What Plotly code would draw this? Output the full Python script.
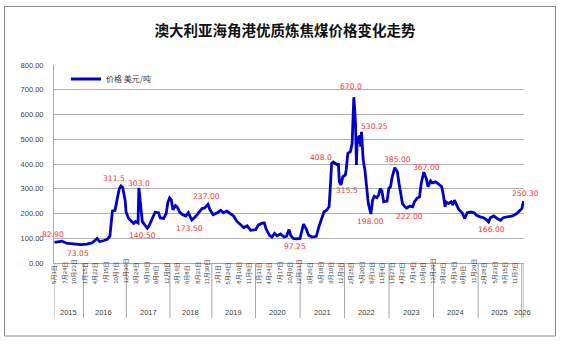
import plotly.graph_objects as go

# ---------------- data ----------------
dates = [
    "2015-05-01", "2015-05-22", "2015-07-03", "2015-07-17", "2015-08-14", "2015-09-11", "2015-10-30",
    "2015-11-20", "2015-12-11", "2016-01-29", "2016-03-25", "2016-05-06", "2016-05-27", "2016-07-01",
    "2016-07-29", "2016-08-19", "2016-09-09", "2016-09-30", "2016-10-14", "2016-11-04", "2016-11-18",
    "2016-12-02", "2016-12-16", "2016-12-23", "2016-12-30", "2017-01-20", "2017-02-10", "2017-03-03",
    "2017-03-17", "2017-04-07", "2017-04-14", "2017-04-28", "2017-05-12", "2017-06-02", "2017-06-23",
    "2017-07-07", "2017-07-28", "2017-08-25", "2017-09-22", "2017-10-13", "2017-11-10", "2017-12-01",
    "2017-12-15", "2017-12-29", "2018-01-12", "2018-01-26", "2018-03-02", "2018-03-16", "2018-04-06",
    "2018-04-27", "2018-05-25", "2018-06-15", "2018-07-13", "2018-08-10", "2018-09-07", "2018-10-12",
    "2018-11-02", "2018-11-30", "2018-12-14", "2019-01-11", "2019-02-22", "2019-03-22", "2019-04-12",
    "2019-05-10", "2019-06-07", "2019-07-05", "2019-08-02", "2019-08-30", "2019-09-27", "2019-10-25",
    "2019-11-22", "2020-01-03", "2020-01-24", "2020-02-21", "2020-03-13", "2020-03-27", "2020-04-24",
    "2020-05-15", "2020-06-05", "2020-06-26", "2020-07-24", "2020-08-21", "2020-09-11", "2020-10-02",
    "2020-10-16", "2020-11-06", "2020-12-04", "2020-12-31", "2021-01-15", "2021-01-29", "2021-02-19",
    "2021-03-12", "2021-04-09", "2021-05-14", "2021-06-04", "2021-06-25", "2021-07-16", "2021-08-06",
    "2021-08-27", "2021-09-03", "2021-09-17", "2021-10-01", "2021-10-29", "2021-11-12", "2021-11-19",
    "2021-12-03", "2021-12-17", "2022-01-07", "2022-01-14", "2022-01-28", "2022-02-18", "2022-03-04",
    "2022-03-18", "2022-03-25", "2022-04-01", "2022-04-08", "2022-04-15", "2022-04-22", "2022-04-29",
    "2022-05-06", "2022-05-13", "2022-05-20", "2022-05-27", "2022-06-03", "2022-06-17", "2022-07-01",
    "2022-07-15", "2022-08-05", "2022-08-19", "2022-09-02", "2022-09-23", "2022-10-07", "2022-10-21",
    "2022-11-04", "2022-11-18", "2022-12-16", "2022-12-30", "2023-01-13", "2023-01-27", "2023-02-17",
    "2023-03-10", "2023-03-24", "2023-04-07", "2023-04-21", "2023-05-12", "2023-05-26", "2023-06-23",
    "2023-07-14", "2023-07-28", "2023-08-18", "2023-09-08", "2023-09-22", "2023-10-13", "2023-11-03",
    "2023-11-17", "2023-12-08", "2023-12-22", "2024-01-19", "2024-02-09", "2024-03-08", "2024-03-22",
    "2024-04-05", "2024-04-12", "2024-05-03", "2024-05-24", "2024-06-07", "2024-06-21", "2024-07-05",
    "2024-07-26", "2024-08-23", "2024-09-13", "2024-10-04", "2024-11-01", "2024-11-29", "2024-12-20",
    "2025-01-17", "2025-02-21", "2025-03-21", "2025-04-04", "2025-04-18", "2025-05-16", "2025-06-13",
    "2025-07-11", "2025-08-01", "2025-09-05", "2025-10-17", "2025-11-21", "2025-12-12", "2026-01-02",
    "2026-01-16",
]
prices = [
    82.9, 84, 88, 85, 79, 78, 75,
    73.05, 74, 76, 81, 99, 86, 91,
    96, 108, 210, 213, 250, 300, 311.5,
    305, 270, 250, 205, 180, 170, 160,
    168, 162, 303, 227, 168, 153, 140.5,
    150, 175, 205, 203, 182, 180, 200,
    245, 263, 255, 215, 232, 226, 205,
    196, 190, 203, 173.5, 186, 203, 220,
    222, 237, 218, 195, 203, 213, 203,
    210, 200, 190, 168, 157, 143, 150,
    132, 135, 153, 160, 162, 139, 112,
    105, 120, 110, 117, 105, 108, 135,
    112, 99, 97.25, 99, 132, 157, 139,
    112, 105, 108, 146, 173, 206, 213,
    227, 281, 402, 408, 398, 398, 328,
    315.5, 348, 356, 376, 443, 450, 483,
    670, 620, 560, 396, 505, 510, 483,
    517, 470, 530.25, 470, 416, 375, 308,
    240, 198, 254, 270, 264, 274, 301,
    290, 247, 250, 301, 308, 348, 385,
    369, 321, 281, 240, 227, 222, 230,
    227, 247, 261, 267, 321, 367, 341,
    308, 332, 324, 328, 320, 308, 274,
    227, 247, 240, 247, 234, 254, 240,
    216, 203, 180, 203, 206, 203, 193,
    186, 183, 173, 166, 183, 190, 180,
    173, 183, 186, 190, 200, 209, 220,
    250.3,
]

# weeks with no quote (the category axis of the original skips them)
missing_weeks = ["2015-10-02", "2016-02-05", "2016-02-12", "2017-10-06", "2018-02-16",
                 "2018-02-23", "2018-10-05", "2019-02-08", "2025-01-31"]

tick_dates = [
    "2015-05-01", "2015-07-24", "2015-10-23", "2016-01-15", "2016-04-22", "2016-07-15", "2016-10-07",
    "2016-12-30", "2017-03-24", "2017-06-16", "2017-09-08", "2017-12-08", "2018-03-16", "2018-06-08",
    "2018-08-31", "2018-11-30", "2019-03-01", "2019-05-24", "2019-08-16", "2019-11-08", "2020-01-31",
    "2020-04-24", "2020-07-17", "2020-10-09", "2020-12-31", "2021-03-26", "2021-06-18", "2021-09-10",
    "2021-12-03", "2022-02-25", "2022-05-20", "2022-08-12", "2022-11-04", "2023-01-27", "2023-04-21",
    "2023-07-14", "2023-10-06", "2023-12-29", "2024-03-22", "2024-06-14", "2024-09-06", "2024-11-29",
    "2025-02-28", "2025-05-23", "2025-08-15", "2025-11-07",
]
tick_text = [
    "5月1日", "7月24日", "10月23日", "1月15日", "4月22日", "7月15日", "10月7日",
    "12月30日", "3月24日", "6月16日", "9月8日", "12月8日", "3月16日", "6月8日",
    "8月31日", "11月30日", "3月1日", "5月24日", "8月16日", "11月8日", "1月31日",
    "4月24日", "7月17日", "10月9日", "12月31日", "3月26日", "6月18日", "9月10日",
    "12月3日", "2月25日", "5月20日", "8月12日", "11月4日", "1月27日", "4月21日",
    "7月14日", "10月6日", "12月29日", "3月22日", "6月14日", "9月6日", "11月29日",
    "2月28日", "5月23日", "8月15日", "11月7日",
]

years = ["2015", "2016", "2017", "2018", "2019", "2020", "2021", "2022", "2023", "2024", "2025", "2026"]
year_mid = ["2015-08-28", "2016-07-01", "2017-07-01", "2018-07-01", "2019-07-01", "2020-07-01",
            "2021-07-01", "2022-07-01", "2023-07-01", "2024-07-01", "2025-07-04", "2026-01-09"]
year_bounds = ["2015-04-27 12:00", "2016-01-01", "2017-01-01", "2018-01-01", "2019-01-01", "2020-01-01",
               "2021-01-01", "2022-01-01", "2023-01-01", "2024-01-01", "2025-01-01", "2026-01-01",
               "2026-01-19 12:00"]

label_dates = ["2015-05-01", "2015-11-20", "2016-11-18", "2017-04-14", "2017-06-23", "2018-07-13",
               "2018-11-30", "2020-12-04", "2021-10-01", "2021-12-03", "2022-03-18", "2022-05-20",
               "2022-08-05", "2023-02-17", "2023-10-13", "2023-05-26", "2025-04-04", "2026-01-16"]
label_values = [82.9, 73.05, 311.5, 303, 140.5, 173.5, 237, 97.25, 408, 315.5, 670, 530.25,
                198, 385, 367, 222, 166, 250.3]
label_text = ["82.90", "73.05", "311.5", "303.0", "140.50", "173.50", "237.00", "97.25", "408.0",
              "315.5", "670.0", "530.25", "198.00", "385.00", "367.00", "222.00", "166.00", "250.30"]
label_shift = [(-1, 8), (0, -8.5), (-7, 7), (0, 4.5), (-5, -7.5), (-2.5, -8.5), (-1, 8.3), (-2, -7.7),
               (-12, 4.5), (5.7, -5.4), (-2.4, 11), (13, 5.7), (0, -7.5), (3, 8.6), (3, 5), (2.5, -8),
               (3, -7.4), (2, 7.5)]

# ---------------- figure ----------------
W, H = 562, 344
ML, MR, MT, MB = 54, 38, 65, 81
PH = H - MT - MB
PW = W - ML - MR


def py(px_y):
    """pixel y (from top of page) -> paper y"""
    return (H - MB - px_y) / PH


def pxx(px_x):
    return (px_x - ML) / PW


fig = go.Figure()
fig.add_trace(go.Scatter(
    x=dates, y=prices, mode="lines", name="价格 美元/吨",
    line=dict(color="#0000CC", width=2.8),
))

annotations = []
for d, v, t, (dx, dy) in zip(label_dates, label_values, label_text, label_shift):
    annotations.append(dict(
        x=d, y=v, xref="x", yref="y", text=t, showarrow=False,
        xshift=dx, yshift=dy, xanchor="center", yanchor="middle",
        font=dict(family="DejaVu Sans", size=7.6, color="#FF3333"),
    ))

for d, t in zip(tick_dates, tick_text):
    annotations.append(dict(
        x=d, y=py(286), xref="x", yref="paper", text=t, showarrow=False,
        textangle=-90, xanchor="center", yanchor="bottom",
        font=dict(family="Liberation Sans, Noto Sans CJK SC", size=6, color="#404040"),
    ))

for d, t in zip(year_mid, years):
    annotations.append(dict(
        x=d, y=py(312), xref="x", yref="paper", text=t, showarrow=False,
        xanchor="center", yanchor="middle",
        font=dict(family="Liberation Sans", size=7.5, color="#404040"),
    ))

shapes = []
for d in year_bounds:
    shapes.append(dict(type="line", xref="x", yref="paper", x0=d, x1=d, y0=0, y1=py(318),
                       line=dict(color="#A6A6A6", width=1)))
# outer frame of the chart
shapes.append(dict(type="rect", xref="paper", yref="paper",
                   x0=pxx(4.5), x1=pxx(555.5), y0=py(336), y1=py(6.5),
                   line=dict(color="#8C8C8C", width=1), fillcolor="rgba(0,0,0,0)", layer="below"))

fig.update_layout(
    width=W, height=H,
    margin=dict(l=ML, r=MR, t=MT, b=MB, pad=0),
    paper_bgcolor="white", plot_bgcolor="white",
    title=dict(text="<b>澳大利亚海角港优质炼焦煤价格变化走势</b>", x=285 / W, xanchor="center",
               y=1 - 31 / H, yanchor="middle", yref="container",
               font=dict(family="Noto Sans CJK SC", size=14.5, color="#111111")),
    showlegend=True,
    legend=dict(x=pxx(66), y=py(79), xanchor="left", yanchor="middle", bgcolor="rgba(0,0,0,0)",
                font=dict(family="Noto Sans CJK SC", size=8, color="#404040"),
                itemwidth=30, borderwidth=0),
    annotations=annotations,
    shapes=shapes,
    xaxis=dict(
        type="date",
        range=["2015-04-27 12:00", "2026-01-19 12:00"],
        rangebreaks=[dict(values=missing_weeks, dvalue=7 * 24 * 3600 * 1000)],
        showticklabels=False, showgrid=False, zeroline=False,
        showline=True, linecolor="#A6A6A6", linewidth=1, ticks="",
    ),
    yaxis=dict(
        range=[0, 800], dtick=100, tickformat=".2f",
        showgrid=True, gridcolor="#B0B0B0", gridwidth=1, zeroline=False,
        showline=True, linecolor="#A6A6A6", linewidth=1,
        ticks="", ticklabelstandoff=8,
        tickfont=dict(family="Liberation Sans", size=7.5, color="#404040"),
    ),
)

fig.write_html("out.html")
